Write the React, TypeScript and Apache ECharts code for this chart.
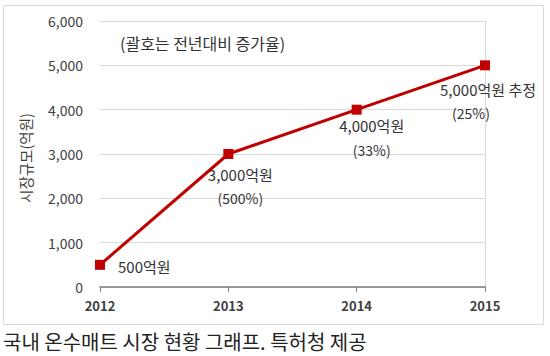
import React, { useEffect, useRef } from "react";
import * as echarts from "echarts";

const years = ["2012", "2013", "2014", "2015"];
const marketSize = [500, 3000, 4000, 5000];
const valueLabels = ["500억원", "3,000억원", "4,000억원", "5,000억원 추정"];
const growthLabels = ["", "(500%)", "(33%)", "(25%)"];
const yTicks = [0, 1000, 2000, 3000, 4000, 5000, 6000];

const FONT = "'Noto Sans CJK KR', 'Noto Sans', sans-serif";

export default function App() {
  const ref = useRef<HTMLDivElement>(null);
  useEffect(() => {
    const chart = echarts.init(ref.current!, null, { renderer: "svg" });
    const labelLayouts = [
      { position: "right", offset: [8, 2], bPad: 0 },
      { position: "bottom", offset: [12, -2], bPad: 0 },
      { position: "bottom", offset: [15, -6], bPad: 0 },
      { position: "bottom", offset: [3, 2], bPad: 34 },
    ];
    const data = marketSize.map((v, i) => ({
      value: v,
      label: {
        show: true,
        position: labelLayouts[i].position,
        offset: labelLayouts[i].offset,
        formatter: growthLabels[i]
          ? `{a|${valueLabels[i]}}\n{b|${growthLabels[i]}}`
          : `{a|${valueLabels[i]}}`,
        rich: {
          a: { fontSize: 15, color: "#333333", fontFamily: FONT, lineHeight: 24 },
          b: {
            fontSize: 14,
            color: "#333333",
            fontFamily: FONT,
            lineHeight: 24,
            padding: [0, labelLayouts[i].bPad, 0, 0],
          },
        },
      },
    }));
    chart.setOption({
      animation: false,
      backgroundColor: "#ffffff",
      textStyle: { fontFamily: FONT },
      grid: { left: 100, right: 65, top: 21, bottom: 69, containLabel: false },
      graphic: [
        {
          type: "rect",
          shape: { x: 3.5, y: 5.5, width: 540, height: 319 },
          style: { fill: "none", stroke: "#d9d9d9", lineWidth: 1 },
          z: -1,
        },
        {
          type: "text",
          left: 120,
          top: 35,
          style: {
            text: "(괄호는 전년대비 증가율)",
            fontSize: 16,
            fontFamily: FONT,
            fill: "#333333",
          },
        },
        {
          type: "text",
          x: 25,
          y: 158,
          rotation: Math.PI / 2,
          style: {
            text: "시장규모(억원)",
            fontSize: 14.5,
            fontFamily: FONT,
            fill: "#404040",
            align: "center",
            verticalAlign: "middle",
          },
        },
        {
          type: "text",
          left: 3,
          top: 331,
          style: {
            text: "국내 온수매트 시장 현황 그래프. 특허청 제공",
            fontSize: 20,
            fontFamily: FONT,
            fill: "#222222",
          },
        },
      ],
      xAxis: {
        type: "category",
        data: years,
        boundaryGap: false,
        axisLine: { lineStyle: { color: "#7f7f7f", width: 1.5 } },
        axisTick: { show: true, length: 5, lineStyle: { color: "#7f7f7f" } },
        axisLabel: {
          fontSize: 13,
          color: "#404040",
          fontWeight: "bold",
          fontFamily: FONT,
          margin: 12,
        },
        splitLine: { show: false },
      },
      yAxis: [
        {
          type: "value",
          min: 0,
          max: 6000,
          interval: 1000,
          axisLine: { show: false },
          axisTick: { show: false },
          axisLabel: {
            fontSize: 14,
            color: "#404040",
            fontFamily: FONT,
            margin: 17,
            formatter: (v: number) =>
              yTicks.includes(v) ? v.toLocaleString("en-US") : "",
          },
          splitLine: { lineStyle: { color: "#d9d9d9", width: 1 } },
        },
        {
          type: "value",
          min: 0,
          max: 6000,
          interval: 1000,
          position: "right",
          axisLine: { show: true, lineStyle: { color: "#d9d9d9", width: 1 } },
          axisTick: { show: false },
          axisLabel: { show: false },
          splitLine: { show: false },
        },
      ],
      series: [
        {
          type: "line",
          data,
          symbol: "rect",
          symbolSize: 10,
          lineStyle: { color: "#c00000", width: 3 },
          itemStyle: { color: "#c00000" },
        },
      ],
    });
    return () => chart.dispose();
  }, []);
  return (
    <div
      ref={ref}
      style={{ position: "fixed", left: 0, top: 0, width: 550, height: 356 }}
    />
  );
}
